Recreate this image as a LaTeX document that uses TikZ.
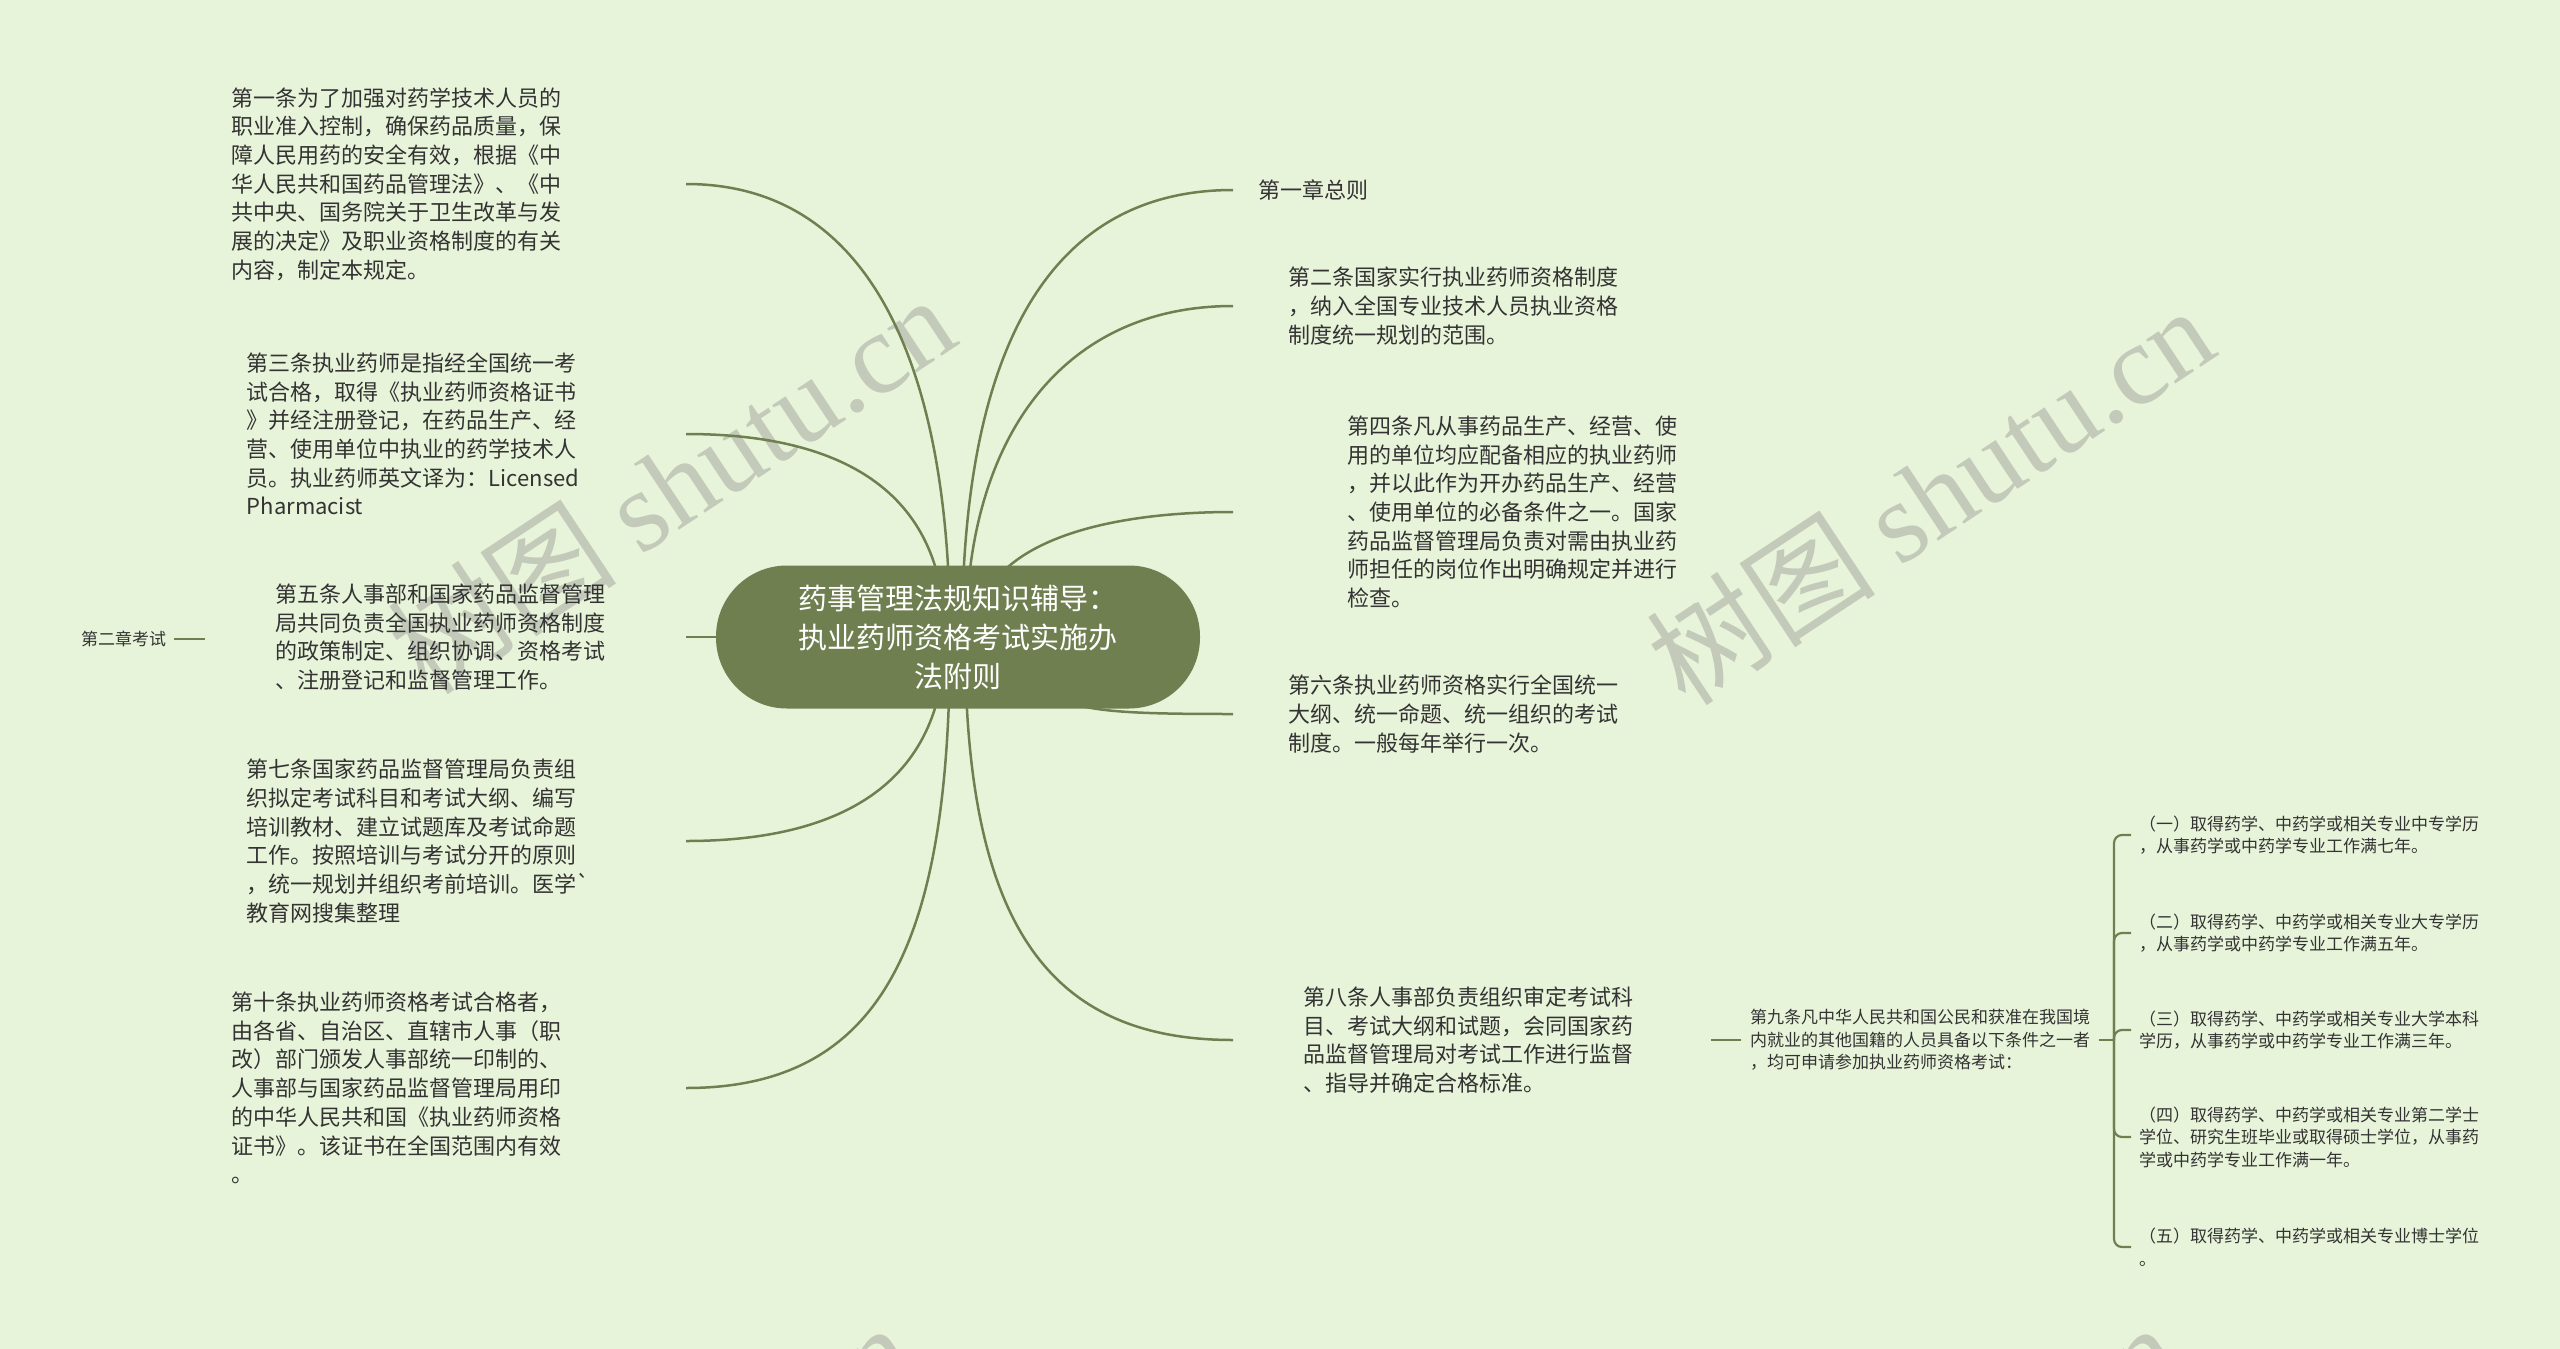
\documentclass[tikz,border=0pt]{standalone}
\usepackage{fontspec}
\usepackage{tikz}
\usetikzlibrary{backgrounds,calc,positioning}
\setmainfont{Noto Sans CJK SC}
\newfontfamily\wmserif{Liberation Serif}
\definecolor{bggreen}{HTML}{E8F4DA}
\definecolor{rootolive}{HTML}{6F7F50}
\definecolor{leaftext}{HTML}{333333}
\definecolor{wmgray}{HTML}{C4CABA}
\tikzset{
  rootbox/.style={fill=rootolive, text=white, rounded corners=71pt, minimum width=484pt,
    minimum height=143pt, align=center, font=\fontsize{29}{39}\selectfont},
  leafl/.style={anchor=east, inner sep=0pt, align=left, text=leaftext, font=\fontsize{22}{28.7}\selectfont},
  leafr/.style={anchor=west, inner ysep=0pt, align=left, text=leaftext, font=\fontsize{22}{28.7}\selectfont},
  subleaf/.style={anchor=west, inner ysep=0pt, inner xsep=8pt, align=left, text=leaftext, font=\fontsize{17}{22.5}\selectfont},
  conn/.style={draw=rootolive, line width=2.5pt},
  forkline/.style={draw=rootolive, line width=2.2pt, rounded corners=8pt},
  wmark/.style={text=wmgray, rotate=33.5, font=\fontsize{115}{115}\selectfont}
}
\begin{document}
\begin{tikzpicture}[x=1pt,y=-1pt]
\useasboundingbox (0,0) rectangle (2560,1349);
\node[rootbox] (root) at (958,637) {药事管理法规知识辅导：\\执业药师资格考试实施办\\法附则};

\node[leafl, text width=454pt] (art1) at (686,184) {第一条为了加强对药学技术人员的\\职业准入控制，确保药品质量，保\\障人民用药的安全有效，根据《中\\华人民共和国药品管理法》、《中\\共中央、国务院关于卫生改革与发\\展的决定》及职业资格制度的有关\\内容，制定本规定。};
\node[leafl, text width=439pt] (art3) at (686,434) {第三条执业药师是指经全国统一考\\试合格，取得《执业药师资格证书\\》并经注册登记，在药品生产、经\\营、使用单位中执业的药学技术人\\员。执业药师英文译为：Licensed\\Pharmacist};
\node[leafl, text width=410pt] (art5) at (686,637) {第五条人事部和国家药品监督管理\\局共同负责全国执业药师资格制度\\的政策制定、组织协调、资格考试\\、注册登记和监督管理工作。};
\node[leafl, text width=439pt] (art7) at (686,841) {第七条国家药品监督管理局负责组\\织拟定考试科目和考试大纲、编写\\培训教材、建立试题库及考试命题\\工作。按照培训与考试分开的原则\\，统一规划并组织考前培训。医学\textasciigrave\\教育网搜集整理};
\node[leafl, text width=454pt] (art10) at (686,1088) {第十条执业药师资格考试合格者，\\由各省、自治区、直辖市人事（职\\改）部门颁发人事部统一印制的、\\人事部与国家药品监督管理局用印\\的中华人民共和国《执业药师资格\\证书》。该证书在全国范围内有效\\。};
\node[subleaf] (ch2) at (73,639) {第二章考试};
\coordinate (ch2out) at (205,639);

\node[leafr, inner xsep=25pt] (ch1) at (1233,190) {第一章总则};
\node[leafr, inner xsep=55pt] (art2) at (1233,306) {第二条国家实行执业药师资格制度\\，纳入全国专业技术人员执业资格\\制度统一规划的范围。};
\node[leafr, inner xsep=114pt] (art4) at (1233,512) {第四条凡从事药品生产、经营、使\\用的单位均应配备相应的执业药师\\，并以此作为开办药品生产、经营\\、使用单位的必备条件之一。国家\\药品监督管理局负责对需由执业药\\师担任的岗位作出明确规定并进行\\检查。};
\node[leafr, inner xsep=55pt] (art6) at (1233,714) {第六条执业药师资格实行全国统一\\大纲、统一命题、统一组织的考试\\制度。一般每年举行一次。};
\node[leafr, inner xsep=70pt] (art8) at (1233,1040) {第八条人事部负责组织审定考试科\\目、考试大纲和试题，会同国家药\\品监督管理局对考试工作进行监督\\、指导并确定合格标准。};

\coordinate (art9in) at (1711,1040);
\node[subleaf, inner xsep=9pt] (art9) at (1741,1040) {第九条凡中华人民共和国公民和获准在我国境\\内就业的其他国籍的人员具备以下条件之一者\\，均可申请参加执业药师资格考试：};
\coordinate (fork) at (2114,1040);
\node[subleaf] (c1) at (2131,835) {（一）取得药学、中药学或相关专业中专学历\\，从事药学或中药学专业工作满七年。};
\node[subleaf] (c2) at (2131,933) {（二）取得药学、中药学或相关专业大专学历\\，从事药学或中药学专业工作满五年。};
\node[subleaf] (c3) at (2131,1030) {（三）取得药学、中药学或相关专业大学本科\\学历，从事药学或中药学专业工作满三年。};
\node[subleaf] (c4) at (2131,1137) {（四）取得药学、中药学或相关专业第二学士\\学位、研究生班毕业或取得硕士学位，从事药\\学或中药学专业工作满一年。};
\node[subleaf] (c5) at (2131,1247) {（五）取得药学、中药学或相关专业博士学位\\。};

\begin{scope}[on background layer]
\fill[bggreen] (0,0) rectangle (2560,1349);
\node[wmark] (wm1) at (671,484) {树图 {\wmserif shutu.cn}};
\node[wmark] (wm2) at (1930,495) {树图 {\wmserif shutu.cn}};
\node[wmark] (wm3) at (629,1512) {树图 {\wmserif shutu.cn}};
\node[wmark] (wm4) at (1895,1512) {树图 {\wmserif shutu.cn}};

\draw[conn] ([xshift=-8pt]root.center) .. controls +(0,-240) and +(200,0) .. (art1.east);
\draw[conn] ([xshift=-13pt]root.center) .. controls +(0,-150) and +(150,0) .. (art3.east);
\draw[conn] (root.center) -- (art5.east);
\draw[conn] ([xshift=-13pt]root.center) .. controls +(0,150) and +(150,0) .. (art7.east);
\draw[conn] ([xshift=-8pt]root.center) .. controls +(0,300) and +(200,0) .. (art10.east);
\draw[conn] ([xshift=4pt]root.center) .. controls +(0,-260) and +(-200,0) .. (ch1.west);
\draw[conn] ([xshift=8pt]root.center) .. controls +(0,-200) and +(-170,0) .. (art2.west);
\draw[conn] ([xshift=17pt]root.center) .. controls +(0,-90) and +(-140,0) .. (art4.west);
\draw[conn] ([xshift=82pt,yshift=-23pt]root.center) .. controls +(0,50) and +(-150,0) .. (art6.west);
\draw[conn] ([xshift=7pt]root.center) .. controls +(0,280) and +(-190,0) .. (art8.west);

\draw[conn] (ch2.east) -- (ch2out);
\draw[conn] (art9in) -- (art9.west);
\draw[forkline] (art9.east) -- (fork);
\foreach \c in {c1,c2,c3,c4,c5}
  \draw[forkline] (fork) |- (\c.west);
\end{scope}
\end{tikzpicture}
\end{document}
